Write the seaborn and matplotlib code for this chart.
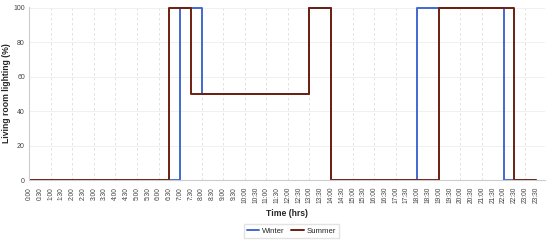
import pandas as pd
import numpy as np
import matplotlib
matplotlib.use("Agg")
import matplotlib.pyplot as plt
import seaborn as sns

# Half-hour time slots
times = [f"{h}:{m:02d}" for h in range(24) for m in (0, 30)]

# Lighting level (%) per half-hour slot
winter = [0] * 14 + [100] * 2 + [50] * 10 + [100] * 2 + [0] * 8 + [100] * 8 + [0] * 4
summer = [0] * 13 + [100] * 2 + [50] * 11 + [100] * 2 + [0] * 10 + [100] * 7 + [0] * 3

df = pd.DataFrame({
    'slot': list(range(len(times))) * 2,
    'value': winter + summer,
    'season': ['Winter'] * len(times) + ['Summer'] * len(times),
})

sns.set_style("white")
plt.rcParams['font.family'] = ['Liberation Sans', 'DejaVu Sans']

fig = plt.figure(figsize=(5.5, 2.42), dpi=100)
ax = fig.add_axes([0.053, 0.256, 0.937, 0.716])

palette = {'Winter': '#4169d0', 'Summer': '#6e1f0f'}
sns.lineplot(data=df, x='slot', y='value', hue='season', palette=palette,
             drawstyle='steps-post', linewidth=1.4, ax=ax, legend=False)

ax.set_xlim(0, 47.8)
ax.set_ylim(0, 100.5)
ax.set_xticks(range(len(times)))
ax.set_xticklabels(times, rotation=90, fontsize=4.8, color='#444444')
ax.set_yticks([0, 20, 40, 60, 80, 100])
ax.tick_params(axis='y', labelsize=5, colors='#444444', length=0, pad=3)
ax.tick_params(axis='x', length=3, width=0.6, pad=2, color='#cccccc')

# grid: vertical dashed every hour, horizontal faint
for x in range(0, 48, 2):
    ax.axvline(x, color='#dddddd', linestyle=(0, (3, 3)), linewidth=0.6, zorder=0)
for y in [20, 40, 60, 80, 100]:
    ax.axhline(y, color='#eeeeee', linewidth=0.6, zorder=0)

for s in ['top', 'right']:
    ax.spines[s].set_visible(False)
ax.spines['left'].set_color('#cccccc')
ax.spines['bottom'].set_color('#cccccc')

ax.set_xlabel('Time (hrs)', fontsize=6.2, fontweight='bold', labelpad=4)
ax.set_ylabel('Living room lighting (%)', fontsize=6.2, fontweight='bold')
ax.yaxis.set_label_coords(-0.036, 0.5)

handles = [plt.Line2D([], [], color=palette['Winter'], lw=1.4),
           plt.Line2D([], [], color=palette['Summer'], lw=1.4)]
fig.legend(handles, ['Winter', 'Summer'], loc='lower center',
           bbox_to_anchor=(0.53, 0.0), ncol=2, fontsize=5.6, frameon=True,
           handlelength=1.6, columnspacing=0.8, handletextpad=0.4,
           edgecolor='#dddddd', fancybox=False)

fig.savefig('out.png', dpi=100)
